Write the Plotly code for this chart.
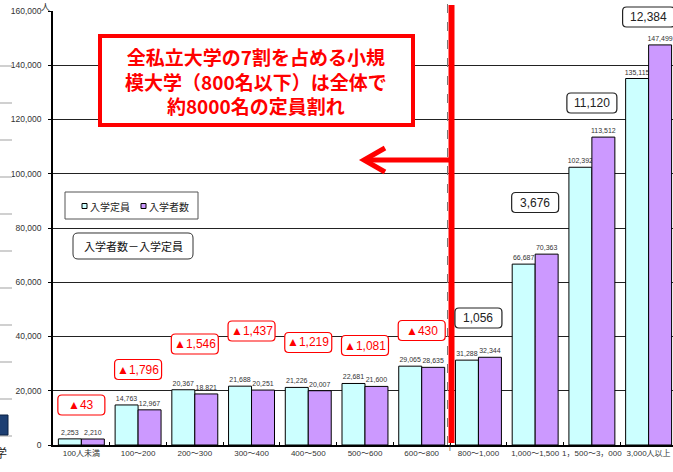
import plotly.graph_objects as go

# ---------------- data ----------------
categories = ["100人未満", "100～200", "200～300", "300～400", "400～500", "500～600",
              "600～800", "800～1,000", "1,000～1,500", "1，500～3，000", "3,000人以上"]
capacity = [2253, 14763, 20367, 21688, 21226, 22681, 29065, 31288, 66687, 102392, 135115]
enrolled = [2210, 12967, 18821, 20251, 20007, 21600, 28635, 32344, 70363, 113512, 147499]
diff_labels = ["▲43", "▲1,796", "▲1,546", "▲1,437", "▲1,219", "▲1,081", "▲430",
               "1,056", "3,676", "11,120", "12,384"]
diff_label_y = [14750, 27830, 37230, 42030, 37790, 36680, 42210, 46820, 89400, 126080, 157790]
y_ticks = [0, 20000, 40000, 60000, 80000, 100000, 120000, 140000, 160000]

# ---------------- layout constants ----------------
W, H = 673, 472
L, T, B = 53, 11, 27
PW = W - L
PH = H - T - B
NCAT_VISIBLE = 10.93
CATW = PW / NCAT_VISIBLE
YMAX = 160000

NARROW = "Liberation Sans Narrow, Arial Narrow, Liberation Sans, Noto Sans CJK JP, sans-serif"
JP = "Noto Sans CJK JP, Noto Sans CJK SC, sans-serif"


def xp(px):
    return (px - L) / PW


def yp(py):
    return (H - B - py) / PH


def rrect(x0, y0, x1, y1, r):
    pts = [
        ("M", [(x0 + r, y0)]), ("L", [(x1 - r, y0)]), ("Q", [(x1, y0), (x1, y0 + r)]),
        ("L", [(x1, y1 - r)]), ("Q", [(x1, y1), (x1 - r, y1)]), ("L", [(x0 + r, y1)]),
        ("Q", [(x0, y1), (x0, y1 - r)]), ("L", [(x0, y0 + r)]), ("Q", [(x0, y0), (x0 + r, y0)]),
    ]
    s = ""
    for cmd, ps in pts:
        s += cmd + " " + " ".join(f"{xp(a):.5f},{yp(b):.5f}" for a, b in ps) + " "
    return s + "Z"


xs = list(range(len(categories)))

fig = go.Figure()
fig.add_bar(x=xs, y=capacity, name="入学定員",
            marker=dict(color="#CCFFFF", line=dict(color="#000000", width=1)),
            text=[f"{v:,}" for v in capacity], textposition="outside",
            textfont=dict(size=7, family=NARROW, color="#333333"),
            cliponaxis=False, constraintext="none")
fig.add_bar(x=xs, y=enrolled, name="入学者数",
            marker=dict(color="#CC99FF", line=dict(color="#000000", width=1)),
            text=[f"{v:,}" for v in enrolled], textposition="outside",
            textfont=dict(size=7, family=NARROW, color="#333333"),
            cliponaxis=False, constraintext="none")

shapes = []
annotations = []

# left-edge artifacts (cropped slide)
for k in range(11):
    py = 66 + k * 37
    shapes.append(dict(type="line", xref="paper", yref="paper", x0=xp(0), x1=xp(12),
                       y0=yp(py), y1=yp(py), line=dict(color="#d0d0d0", width=2), layer="above"))
shapes.append(dict(type="rect", xref="paper", yref="paper", x0=xp(-2), x1=xp(8), y0=yp(435), y1=yp(415),
                   fillcolor="#1d3f73", line=dict(color="#0b2142", width=1), layer="above"))
annotations.append(dict(text="学", xref="paper", yref="paper", x=xp(9), y=yp(452), xanchor="right",
                        yanchor="middle", showarrow=False, font=dict(size=12, family=JP, color="#222")))

# unit label
annotations.append(dict(text="人", xref="paper", yref="paper", x=xp(45), y=yp(6), xanchor="center",
                        yanchor="middle", showarrow=False, font=dict(size=9, family=JP, color="#333")))

# red divider
xdiv = xp(451.5)
shapes.append(dict(type="line", xref="paper", yref="paper", x0=xp(447.5), x1=xp(447.5), y0=yp(445), y1=yp(3),
                   line=dict(color="#777777", width=1, dash="dash"), layer="above"))
shapes.append(dict(type="line", xref="paper", yref="paper", x0=xdiv, x1=xdiv, y0=yp(443), y1=yp(5),
                   line=dict(color="#FF0000", width=6), layer="above"))
annotations.append(dict(text="|", xref="paper", yref="paper", x=xp(450), y=yp(453), showarrow=False,
                        font=dict(size=7, family=NARROW, color="#333")))

# arrow
shapes.append(dict(type="line", xref="paper", yref="paper", x0=xp(449), x1=xp(365), y0=yp(160), y1=yp(160),
                   line=dict(color="#FF0000", width=5), layer="above"))
shapes.append(dict(type="path", xref="paper", yref="paper",
                   path=f"M {xp(385):.5f},{yp(148):.5f} L {xp(364):.5f},{yp(160):.5f} L {xp(385):.5f},{yp(172):.5f}",
                   line=dict(color="#FF0000", width=5), layer="above"))

# main red message box
shapes.append(dict(type="rect", xref="paper", yref="paper", x0=xp(100), x1=xp(413), y0=yp(125), y1=yp(36),
                   fillcolor="white", line=dict(color="#FF0000", width=4), layer="above"))
msg_lines = ["全私立大学の7割を占める小規", "模大学（800名以下）は全体で", "約8000名の定員割れ"]
annotations.append(dict(text="<b>" + "<br>".join(msg_lines) + "</b>", xref="paper", yref="paper",
                        x=xp(256), y=yp(81), xanchor="center", yanchor="middle", showarrow=False,
                        align="center", font=dict(size=19, family=JP, color="#FF0000")))

# legend (drawn manually)
shapes.append(dict(type="rect", xref="paper", yref="paper", x0=xp(65), x1=xp(198), y0=yp(219), y1=yp(192),
                   fillcolor="white", line=dict(color="#555555", width=1), layer="above"))
for sx, col, name in [(82, "#CCFFFF", "入学定員"), (141, "#CC99FF", "入学者数")]:
    shapes.append(dict(type="rect", xref="paper", yref="paper", x0=xp(sx), x1=xp(sx + 5), y0=yp(208.5), y1=yp(203.5),
                       fillcolor=col, line=dict(color="#000", width=1), layer="above"))
    annotations.append(dict(text=name, xref="paper", yref="paper", x=xp(sx + 6), y=yp(206), xanchor="left",
                            yanchor="middle", showarrow=False, font=dict(size=10, family=JP, color="#222")))

# explanation box
shapes.append(dict(type="path", xref="paper", yref="paper", path=rrect(73, 233, 193, 259, 5),
                   fillcolor="white", line=dict(color="#333333", width=1), layer="above"))
annotations.append(dict(text="入学者数－入学定員", xref="paper", yref="paper", x=xp(133), y=yp(246),
                        xanchor="center", yanchor="middle", showarrow=False,
                        font=dict(size=11, family=JP, color="#111")))

# difference labels
for i, (lab, yv) in enumerate(zip(diff_labels, diff_label_y)):
    cx = L + (i + 0.5) * CATW
    cy = H - B - yv / YMAX * PH
    red = lab.startswith("▲")
    w = 52 if i == 10 else (50 if i == 9 else 47)
    h = 20
    col = "#FF0000" if red else "#222222"
    shapes.append(dict(type="path", xref="paper", yref="paper",
                       path=rrect(cx - w / 2, cy - h / 2, cx + w / 2, cy + h / 2, 4),
                       fillcolor="white", line=dict(color=col, width=1.2), layer="above"))
    annotations.append(dict(text=lab, xref="paper", yref="paper", x=xp(cx), y=yp(cy), xanchor="center",
                            yanchor="middle", showarrow=False,
                            font=dict(size=12, family=NARROW, color=col)))

fig.update_layout(
    width=W, height=H,
    margin=dict(l=L, r=0, t=T, b=B, pad=0),
    paper_bgcolor="white", plot_bgcolor="white",
    barmode="group", bargap=0.19, bargroupgap=0,
    showlegend=False,
    shapes=shapes, annotations=annotations,
    xaxis=dict(range=[-0.5, -0.5 + NCAT_VISIBLE], tickmode="array", tickvals=xs, ticktext=categories,
               tickangle=0,
               showline=True, linecolor="#000", linewidth=1.5, ticks="", showgrid=False, zeroline=False,
               tickfont=dict(size=8, family=NARROW, color="#333"),
               minor=dict(tickmode="array", tickvals=[i + 0.5 for i in range(10)], ticks="inside",
                          ticklen=3, tickcolor="#000", showgrid=False)),
    yaxis=dict(range=[0, YMAX], tickmode="array", tickvals=y_ticks, tickformat=",d",
               showgrid=True, gridcolor="#222222", gridwidth=1, zeroline=False,
               showline=True, linecolor="#000", linewidth=1.5, ticks="outside", ticklen=3, tickcolor="#000",
               ticklabelstandoff=5,
               tickfont=dict(size=8.5, family=NARROW, color="#333")),
)

fig.write_html("out.html")
